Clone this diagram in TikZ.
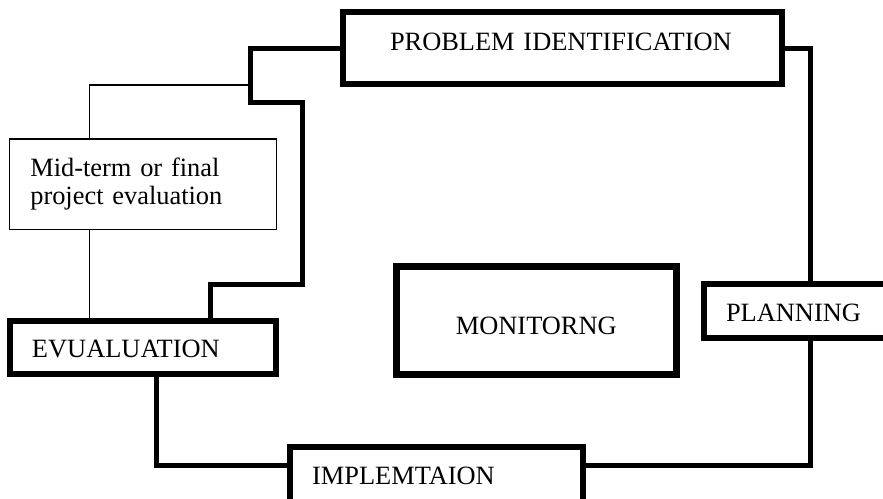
\documentclass[tikz,border=0pt]{standalone}
\usepackage{fontspec}
\setmainfont{Liberation Serif}
\usetikzlibrary{calc}

\begin{document}
\begin{tikzpicture}[x=0.5pt, y=-0.5pt,
        stage/.style={draw, line width=3pt, outer sep=0pt, inner ysep=0pt, anchor=north west, align=left,
                      font=\fontsize{13.2}{14}\selectfont},
        link/.style={line width=2.5pt},
        thin link/.style={line width=0.75pt}]
        \useasboundingbox (0,0) rectangle (883,498);
        \clip (0,0) rectangle (883,498);

        \node[stage, inner xsep=23.5pt, text width=172.5pt, text height=19pt, text depth=17pt] (prob) at (343,12) {PROBLEM IDENTIFICATION};
        \node[stage, line width=0.75pt, inner xsep=10.3pt, text width=112.7pt, text height=18.5pt, text depth=26.65pt] (mid) at (9.7,139) {Mid-term or final\\project evaluation};
        \node[stage, inner xsep=11.15pt, text width=111pt, text height=18.35pt, text depth=8.25pt] (eval) at (9.7,321) {EVUALUATION};
        \node[stage, line width=3.65pt, align=center, inner xsep=0pt, text width=140pt, text height=34pt, text depth=20.1pt] (mon) at (396.3,266.3) {MONITORNG};
        \node[stage, inner xsep=11.15pt, text width=111pt, text height=18.4pt, text depth=8.4pt] (plan) at (703.7,284.2) {PLANNING};
        \node[stage, inner xsep=11.15pt, text width=124.3pt, text height=18.5pt, text depth=20pt] (impl) at (289.8,447) {IMPLEMTAION};

        \coordinate (tap) at (250.8,85);

        \draw[link] (prob.west) -| (250.8,102.5) -| (302.5,284) -| ($(eval.north west)+(200.3,0)$);
        \draw[link] (prob.east) -| ($(plan.north west)+(106.3,0)$);
        \draw[link] ($(plan.south west)+(106.3,0)$) |- ($(impl.north east)+(0,18)$);
        \draw[link] ($(eval.south west)+(146.8,0)$) |- ($(impl.north west)+(0,18)$);
        \draw[thin link] ($(mid.north west)+(79.8,0)$) |- (tap);
        \draw[thin link] ($(mid.south west)+(79.8,0)$) -- ($(eval.north west)+(79.8,0)$);
    \end{tikzpicture}
\end{document}
